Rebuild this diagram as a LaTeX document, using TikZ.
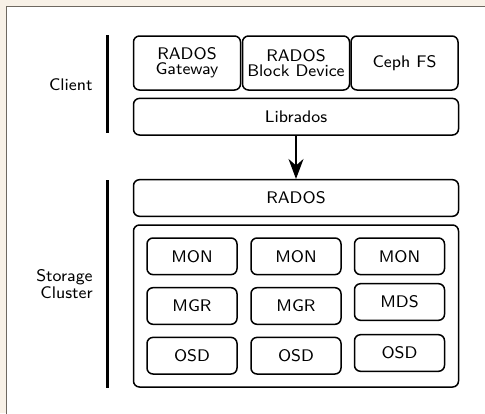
\documentclass[tikz,border=0pt]{standalone}
\usetikzlibrary{arrows.meta}
\definecolor{bgbeige}{HTML}{F8F1E7}
\definecolor{panelgray}{HTML}{6E6860}
\begin{document}
\begin{tikzpicture}[x=0.5pt,y=-0.5pt,
  box/.style={draw=black,line width=0.75pt,rounded corners=3pt,fill=white,
    font=\sffamily\fontsize{8.4}{7.6}\selectfont,align=center,inner sep=0pt},
  topbox/.style={box,minimum width=53.5pt,minimum height=27pt},
  widebox/.style={box,minimum width=162.5pt,minimum height=18.3pt},
  inbox/.style={box,minimum width=45pt,minimum height=18.3pt},
  bar/.style={line width=1.6pt},
  side/.style={font=\sffamily\fontsize{8.4}{8.2}\selectfont,align=right,anchor=east,inner sep=0pt}]
\useasboundingbox (0,0) rectangle (485,413);
\clip (0,0) rectangle (485,413);
\fill[bgbeige] (0,0) rectangle (485,413);
\draw[panelgray,fill=white,line width=0.6pt] (6.5,6.5) rectangle (500,430);

% client
\node[topbox] (gw) at (187,63) {RADOS\\Gateway};
\node[topbox] (rbd) at (296,63) {RADOS\\Block Device};
\node[topbox] (cfs) at (404.5,63) {Ceph FS};
\node[widebox] (lib) at (296,116.7) {Librados};

\coordinate (c1) at (107.3,35);
\coordinate (c2) at (107.3,133);
\draw[bar] (c1) -- (c2);
\node[side] (client) at (93,85) {Client};

% storage
\node[widebox] (rados) at (296,198) {RADOS};
\node[box,minimum width=162.5pt,minimum height=81pt] (cluster) at (296,306) {};

\node[inbox] (mon1) at (192,256.3) {MON};
\node[inbox] (mon2) at (296,256.3) {MON};
\node[inbox] (mon3) at (399.5,256.3) {MON};
\node[inbox] (mgr1) at (192,306) {MGR};
\node[inbox] (mgr2) at (296,306) {MGR};
\node[inbox] (mds) at (399.5,302) {MDS};
\node[inbox] (osd1) at (192,355.7) {OSD};
\node[inbox] (osd2) at (296,355.7) {OSD};
\node[inbox] (osd3) at (399.5,353) {OSD};

\coordinate (s1) at (107.3,180);
\coordinate (s2) at (107.3,388);
\draw[bar] (s1) -- (s2);
\node[side] (storage) at (93,284) {Storage\\Cluster};

\draw[line width=0.75pt,-{Stealth[length=10pt,width=7.5pt]}] (lib.south) -- (rados.north);
\end{tikzpicture}
\end{document}
